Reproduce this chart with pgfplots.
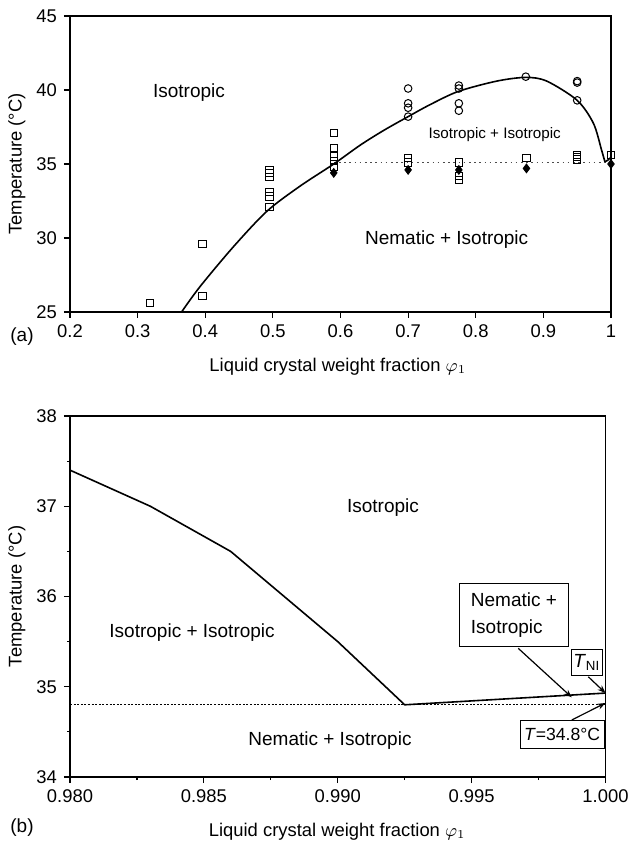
\documentclass[border=0pt]{standalone}
\usepackage{fontspec}
\setmainfont{Liberation Sans}
\usepackage{pgfplots}
\pgfplotsset{compat=1.18}
\usetikzlibrary{arrows.meta}

\newcommand{\regionfont}{\fontsize{9.5}{11}\selectfont}
\newcommand{\smallregion}{\fontsize{7.6}{9}\selectfont}

\pgfplotsset{
  phase/.style={
    scale only axis, clip=false,
    axis line style={line width=0.8pt},
    every tick/.style={black, line width=0.6pt},
    tick align=outside, major tick length=3pt, minor tick length=1.6pt,
    xtick pos=bottom, ytick pos=left,
    tick label style={font=\fontsize{9.2}{11}\selectfont},
    label style={font=\fontsize{9.2}{11}\selectfont},
    /pgf/number format/assume math mode=true,
    scaled ticks=false,
    ylabel={Temperature (°C)},
    xlabel={Liquid crystal weight fraction $\varphi_1$},
  },
  opensq/.style={only marks, mark=square, mark size=1.8pt, mark options={line width=0.5pt, black}},
  opencirc/.style={only marks, mark=o, mark size=1.9pt, mark options={line width=0.5pt, black}},
  filled/.style={only marks, mark=diamond*, mark size=2.2pt, mark options={black, fill=black}},
}

\begin{document}
\begin{tikzpicture}
\useasboundingbox (-35pt,-266pt) rectangle (279.5pt,156pt);

% (a) full diagram
\begin{axis}[phase,
  at={(0,0)}, anchor=south west,
  width=270.5pt, height=148pt,
  xmin=0.2, xmax=1, ymin=25, ymax=45,
  xtick={0.2,0.3,0.4,0.5,0.6,0.7,0.8,0.9,1},
  ytick={25,30,35,40,45},
  xlabel style={at={(axis description cs:0.495,-0.186)}, anchor=center},
  ylabel style={at={(axis description cs:-0.098,0.5)}, anchor=center},
]
\addplot[dash pattern=on 0.8pt off 1.8pt, line width=0.8pt, black!70] coordinates {(0.59,35.1) (1.0,35.1)};
\addplot[smooth, tension=0.5, line width=0.8pt, black] coordinates {
  (0.365,25.0) (0.392,26.7) (0.4415,29.4) (0.491,31.8) (0.540,33.5) (0.59,35.0)
  (0.63,36.3) (0.665,37.3) (0.70,38.2) (0.732,39.0) (0.774,39.9) (0.831,40.6)
  (0.874,40.85) (0.905,40.6) (0.95,39.3) (0.974,37.75) (0.986,35.95) (0.991,35.15)};
\addplot[line width=0.8pt, black] coordinates {(0.991,35.15) (0.995,35.25) (1.0,35.45)};
\addplot[opensq] coordinates {
  (0.318,25.6) (0.396,29.6) (0.396,26.1)
  (0.495,34.6) (0.495,34.4) (0.495,34.1) (0.495,33.1) (0.495,32.8) (0.495,32.1)
  (0.59,37.1) (0.59,36.1) (0.59,35.5) (0.59,35.2) (0.59,34.8)
  (0.70,35.4) (0.70,35.1)
  (0.775,35.1) (0.775,34.2) (0.775,33.9)
  (0.875,35.4)
  (0.95,35.6) (0.95,35.45) (0.95,35.3)
  (1.0,35.6)};
\addplot[opencirc] coordinates {
  (0.70,40.1) (0.70,39.1) (0.70,38.8) (0.70,38.2)
  (0.775,40.3) (0.775,40.1) (0.775,39.1) (0.775,38.6)
  (0.874,40.9)
  (0.95,40.6) (0.95,40.5) (0.95,39.3)};
\addplot[filled] coordinates {
  (0.59,34.4) (0.70,34.6) (0.775,34.6) (0.875,34.7) (1.0,35.0)};
\node[font=\regionfont] at (axis cs:0.376,39.8) {Isotropic};
\node[font=\smallregion] at (axis cs:0.828,37.0) {Isotropic + Isotropic};
\node[font=\regionfont] at (axis cs:0.757,29.9) {Nematic + Isotropic};
\node[font=\regionfont] at (axis description cs:-0.0887,-0.0845) {(a)};
\end{axis}

% (b) close-up near phi = 1
\begin{axis}[phase,
  at={(0,-52pt)}, anchor=north west,
  width=267.75pt, height=180.5pt,
  xmin=0.98, xmax=1.0, ymin=34, ymax=38,
  xtick={0.980,0.985,0.990,0.995,1.000},
  ytick={34,35,36,37,38},
  minor x tick num=1, minor y tick num=1,
  xticklabel style={/pgf/number format/fixed, /pgf/number format/fixed zerofill,
    /pgf/number format/precision=3},
  xlabel style={at={(axis description cs:0.499,-0.152)}, anchor=center},
  ylabel style={at={(axis description cs:-0.099,0.5)}, anchor=center},
]
\addplot[dash pattern=on 1pt off 0.8pt, line width=0.6pt, black] coordinates {(0.98,34.8) (1.0,34.8)};
\addplot[line width=0.8pt, black] coordinates {
  (0.980,37.4) (0.983,37.0) (0.986,36.5) (0.988,36.0) (0.990,35.5) (0.9925,34.8) (1.0,34.93)};
\node[font=\regionfont] at (axis cs:0.99169,36.98) {Isotropic};
\node[font=\regionfont] at (axis cs:0.98456,35.60) {Isotropic + Isotropic};
\node[font=\regionfont] at (axis cs:0.98971,34.40) {Nematic + Isotropic};
\node[draw, line width=0.5pt, fill=white, align=left, font=\fontsize{9.5}{13.2}\selectfont,
  minimum width=54.5pt, minimum height=31.7pt, inner sep=2pt]
  at (axis cs:0.99658,35.795) {Nematic +\\Isotropic};
\draw[-{Stealth[length=4pt,width=3pt]}, line width=0.6pt]
  (axis cs:0.99674,35.426) -- (axis cs:0.99874,34.883);
\node[draw, line width=0.5pt, fill=white, font=\regionfont,
  minimum width=13.3pt, minimum height=13.2pt, inner sep=1pt]
  at (axis cs:0.99930,35.269) {\textit{T}\textsubscript{NI}};
\draw[-{Stealth[length=4pt,width=3pt]}, line width=0.6pt]
  (axis cs:0.99936,35.11) -- (axis cs:1.0,34.93);
\node[draw, line width=0.5pt, fill=white, font=\fontsize{8.8}{10}\selectfont,
  minimum height=13.7pt, inner xsep=2pt, inner ysep=1pt]
  at (axis cs:0.99838,34.47) {\textit{T}=34.8°C};
\draw[-{Stealth[length=4pt,width=3pt]}, line width=0.6pt]
  (axis cs:0.99874,34.632) -- (axis cs:1.0,34.82);
\node[font=\regionfont] at (axis description cs:-0.0896,-0.141) {(b)};
\end{axis}
\end{tikzpicture}
\end{document}
